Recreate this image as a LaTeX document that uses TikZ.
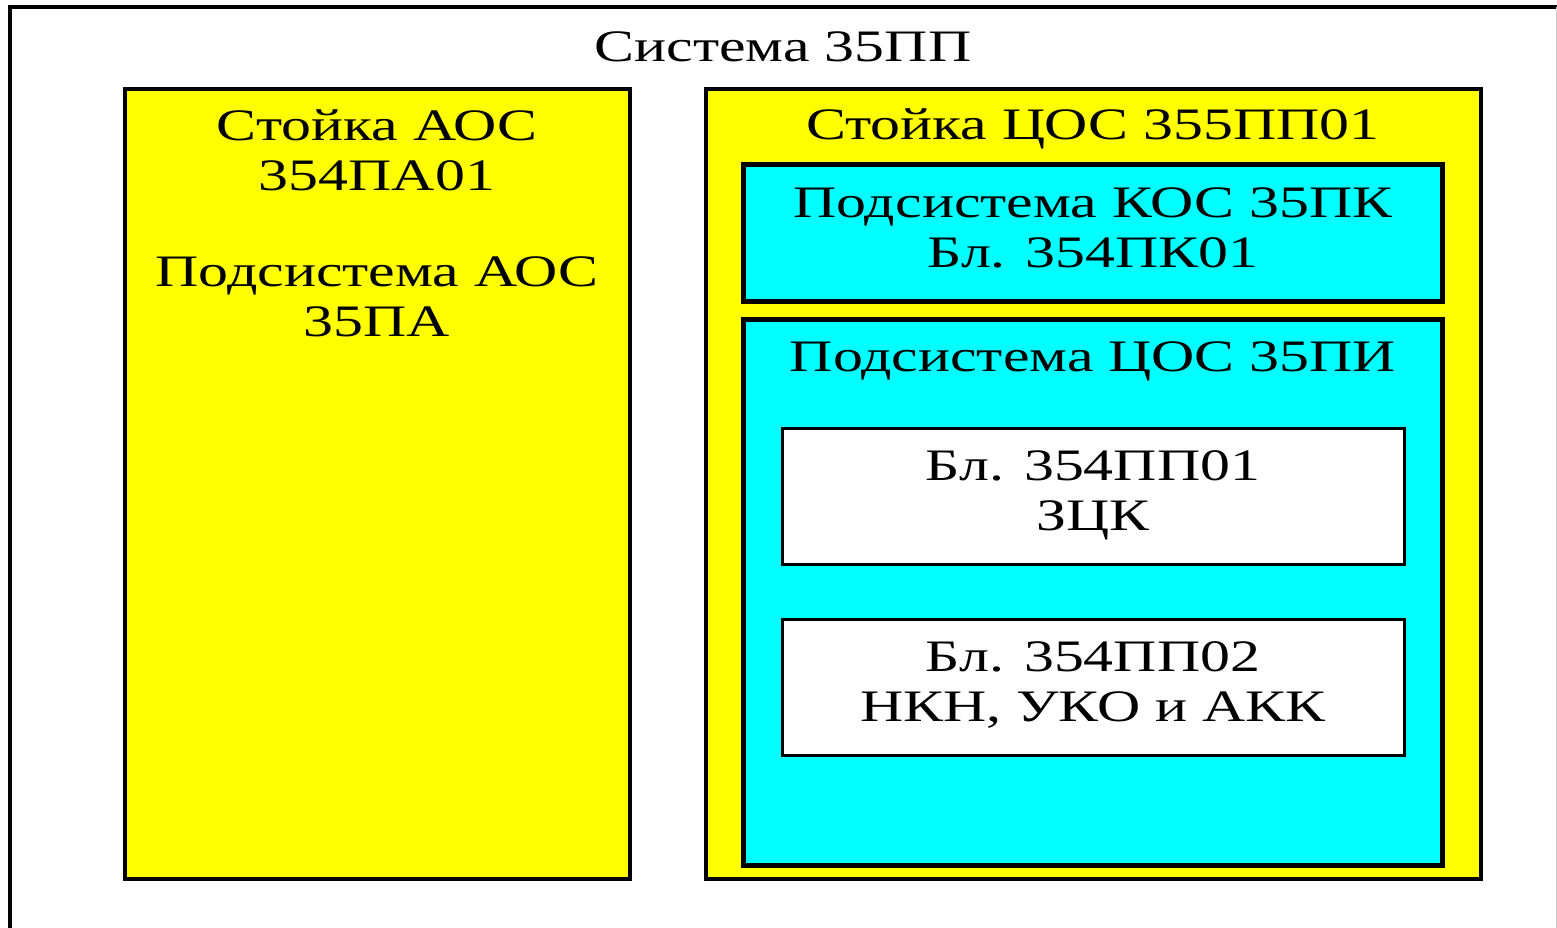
\documentclass[tikz,border=0pt]{standalone}
\usepackage{fontspec}
\setmainfont[FakeStretch=1.33]{Liberation Serif}
\usetikzlibrary{positioning}

\definecolor{rackyellow}{RGB}{255,255,0}
\definecolor{subcyan}{RGB}{0,255,255}

\tikzset{
  rackbox/.style={draw=black,line width=3.5pt,fill=rackyellow,minimum width=#1,minimum height=790pt,inner sep=0pt},
  subbox/.style={draw=black,line width=5pt,fill=subcyan,minimum width=699pt,inner sep=0pt},
  unitbox/.style={draw=black,line width=3pt,fill=white,minimum width=622pt,minimum height=136pt,inner sep=0pt},
  lbl/.style={font=\fontsize{45}{50}\selectfont,align=center,inner sep=0pt}
}

\begin{document}
\begin{tikzpicture}[x=1pt,y=-1pt]
  \useasboundingbox (0,0) rectangle (1557,928);
  % outer frame
  \draw[line width=3.5pt] (10,928) -- (10,7) -- (1557,7);
  \draw[gray!40,line width=1pt] (1556,7) -- (1556,928);
  \node[lbl] (sys) at (783,47) {Система 35ПП};

  % left rack
  \node[rackbox=505pt] (aos) at (377.5,484) {};
  \node[lbl] (aosname) at (377,150) {Стойка АОС\\354ПА01};
  \node[lbl] (aossub) at (377,297) {Подсистема АОС\\35ПА};

  % right rack
  \node[rackbox=775pt] (cos) at (1093.5,484) {};
  \node[lbl] (cosname) at (1093,129) {Стойка ЦОС 355ПП01};
  \node[subbox,minimum height=136pt] (kos) at (1092.5,233) {};
  \node[lbl] (kosname) at (1093,228) {Подсистема КОС 35ПК\\Бл. 354ПК01};
  \node[subbox,minimum height=546pt] (cis) at (1092.5,592) {};
  \node[lbl] (cisname) at (1093,361) {Подсистема ЦОС 35ПИ};
  \node[unitbox] (pp1) at (1093,496.5) {};
  \node[lbl] (pp1name) at (1093,495) {Бл. 354ПП01\\ЗЦК};
  \node[unitbox] (pp2) at (1093,687) {};
  \node[lbl] (pp2name) at (1093,685) {Бл. 354ПП02\\НКН, УКО и АКК};
\end{tikzpicture}
\end{document}
